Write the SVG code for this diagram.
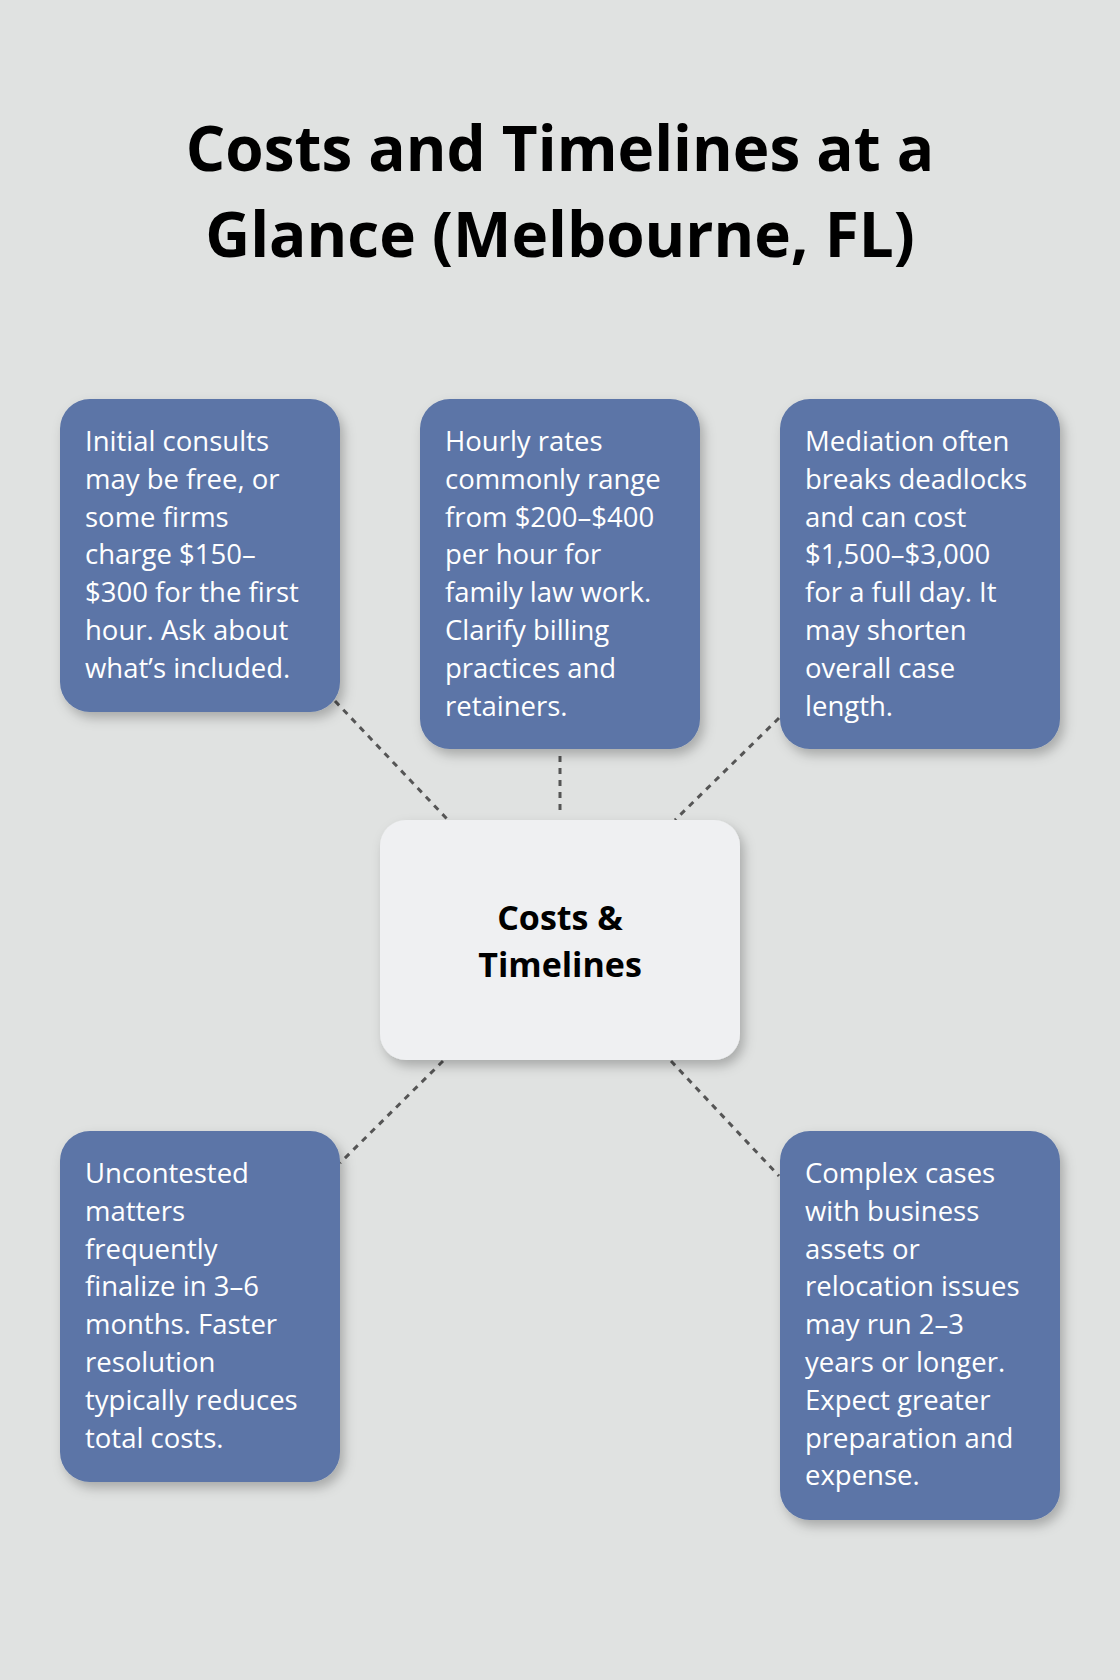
<svg xmlns="http://www.w3.org/2000/svg" width="1120" height="1680" viewBox="0 0 1120 1680">
<style>
.t{font-family:"Open Sans","Noto Sans",sans-serif;font-size:27.5px;fill:#fff}
.h{font-family:"Open Sans","Noto Sans",sans-serif;font-weight:bold;fill:#000;text-anchor:middle}
.b{fill:#5b75a7;filter:url(#s)}
.c{stroke:#555;stroke-width:3;stroke-dasharray:6 6;fill:none}
</style>
<defs><filter id="s" x="-20%" y="-20%" width="140%" height="140%"><feDropShadow dx="4" dy="6" stdDeviation="6" flood-color="#000" flood-opacity="0.25"/></filter></defs>
<rect width="1120" height="1680" fill="#e0e2e1"/>
<text class="h" font-size="62" x="560" y="171">Costs and Timelines at a</text>
<text class="h" font-size="62" x="560" y="257">Glance (Melbourne, FL)</text>
<g id="connectors">
<line class="c" x1="335" y1="701" x2="448" y2="820"/>
<line class="c" x1="560" y1="756" x2="560" y2="815"/>
<line class="c" x1="779" y1="718" x2="675" y2="820"/>
<line class="c" x1="443" y1="1061" x2="340" y2="1163"/>
<line class="c" x1="671" y1="1061" x2="779" y2="1176"/>
</g>
<g id="center"><rect x="380" y="820" width="360" height="240" rx="26" fill="#eff0f2" filter="url(#s)"/>
<text class="h" font-size="34" x="560" y="930">Costs &amp;</text><text class="h" font-size="34" x="560" y="977">Timelines</text></g>
<g id="n1"><rect class="b" x="60" y="399" width="280" height="313" rx="30"/>
<text class="t"><tspan x="85" y="451">Initial consults</tspan><tspan x="85" dy="37.8">may be free, or</tspan><tspan x="85" dy="37.8">some firms</tspan><tspan x="85" dy="37.8">charge $150–</tspan><tspan x="85" dy="37.8">$300 for the first</tspan><tspan x="85" dy="37.8">hour. Ask about</tspan><tspan x="85" dy="37.8">what’s included.</tspan></text></g>
<g id="n2"><rect class="b" x="420" y="399" width="280" height="350" rx="30"/>
<text class="t"><tspan x="445" y="451">Hourly rates</tspan><tspan x="445" dy="37.8">commonly range</tspan><tspan x="445" dy="37.8">from $200–$400</tspan><tspan x="445" dy="37.8">per hour for</tspan><tspan x="445" dy="37.8">family law work.</tspan><tspan x="445" dy="37.8">Clarify billing</tspan><tspan x="445" dy="37.8">practices and</tspan><tspan x="445" dy="37.8">retainers.</tspan></text></g>
<g id="n3"><rect class="b" x="780" y="399" width="280" height="350" rx="30"/>
<text class="t"><tspan x="805" y="451">Mediation often</tspan><tspan x="805" dy="37.8">breaks deadlocks</tspan><tspan x="805" dy="37.8">and can cost</tspan><tspan x="805" dy="37.8">$1,500–$3,000</tspan><tspan x="805" dy="37.8">for a full day. It</tspan><tspan x="805" dy="37.8">may shorten</tspan><tspan x="805" dy="37.8">overall case</tspan><tspan x="805" dy="37.8">length.</tspan></text></g>
<g id="n4"><rect class="b" x="60" y="1131" width="280" height="351" rx="30"/>
<text class="t"><tspan x="85" y="1183">Uncontested</tspan><tspan x="85" dy="37.8">matters</tspan><tspan x="85" dy="37.8">frequently</tspan><tspan x="85" dy="37.8">finalize in 3–6</tspan><tspan x="85" dy="37.8">months. Faster</tspan><tspan x="85" dy="37.8">resolution</tspan><tspan x="85" dy="37.8">typically reduces</tspan><tspan x="85" dy="37.8">total costs.</tspan></text></g>
<g id="n5"><rect class="b" x="780" y="1131" width="280" height="389" rx="30"/>
<text class="t"><tspan x="805" y="1183">Complex cases</tspan><tspan x="805" dy="37.8">with business</tspan><tspan x="805" dy="37.8">assets or</tspan><tspan x="805" dy="37.8">relocation issues</tspan><tspan x="805" dy="37.8">may run 2–3</tspan><tspan x="805" dy="37.8">years or longer.</tspan><tspan x="805" dy="37.8">Expect greater</tspan><tspan x="805" dy="37.8">preparation and</tspan><tspan x="805" dy="37.8">expense.</tspan></text></g>
</svg>
